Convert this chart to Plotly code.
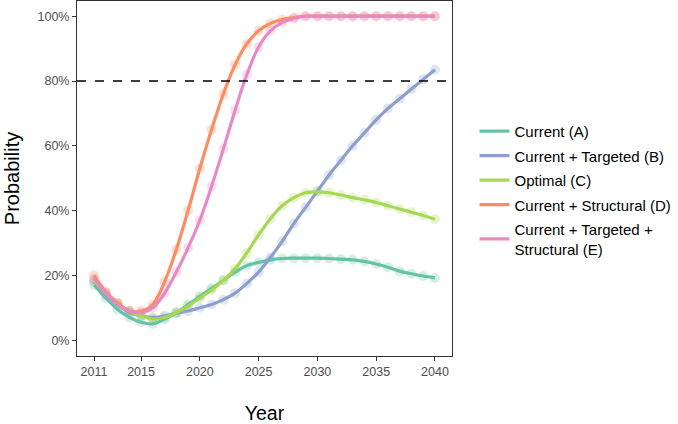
import plotly.graph_objects as go

years = list(range(2011, 2041))

current_a = [17, 13, 9.5, 7, 5.5, 5, 6.5, 8.5, 11, 13.5, 16, 18.5, 21, 23, 24, 24.8, 25.2,
             25.3, 25.3, 25.3, 25.2, 25, 24.8, 24.3, 23.5, 22.5, 21.3, 20.5, 19.8, 19.2]
targeted_b = [18, 14, 11, 8.5, 7.5, 7, 7.5, 8.3, 9, 10, 11, 12.5, 14.5, 17.5, 21, 25.5, 30.5,
              36, 41, 46, 51, 55.5, 60, 64, 68, 71.5, 74.5, 77.5, 80.5, 83.5]
optimal_c = [18.5, 14.5, 11.5, 9, 7.5, 6.5, 7, 8.5, 10.5, 13, 15.5, 18.5, 22, 27, 32.5, 37.5,
             41.5, 44, 45.5, 45.8, 45.5, 44.8, 44, 43.3, 42.5, 41.5, 40.5, 39.5, 38.5, 37.3]
structural_d = [20, 15, 11.5, 9, 9, 11, 18, 28, 40, 53, 65, 76, 85, 91.5, 95.5, 97.8, 99, 99.6,
                100, 100, 100, 100, 100, 100, 100, 100, 100, 100, 100, 100]
targ_struct_e = [19, 14.5, 11, 9, 8.5, 10, 14.5, 21, 28.5, 37, 47.5, 59, 71, 82, 90.5, 95.5, 98,
                 99.3, 100, 100, 100, 100, 100, 100, 100, 100, 100, 100, 100, 100]

names = ["Current (A)", "Current + Targeted (B)", "Optimal (C)", "Current + Structural (D)",
         "Current + Targeted +<br>Structural (E)"]
colors = ["#66c2a5", "#8da0cb", "#a6d854", "#fc8d62", "#e78ac3"]
series = [current_a, targeted_b, optimal_c, structural_d, targ_struct_e]

threshold = 0.8
x_ticks = [2011, 2015, 2020, 2025, 2030, 2035, 2040]
y_ticks = [0, 0.2, 0.4, 0.6, 0.8, 1.0]
y_tick_text = ["0%", "20%", "40%", "60%", "80%", "100%"]

fig = go.Figure()

for name, col, vals in zip(names, colors, series):
    v = [p / 100 for p in vals]
    fig.add_trace(go.Scatter(x=years, y=v, mode="markers", showlegend=False,
                             marker=dict(size=10, color=col, opacity=0.28, line=dict(width=0)),
                             hoverinfo="skip", legendgroup=name))
for name, col, vals in zip(names, colors, series):
    v = [p / 100 for p in vals]
    fig.add_trace(go.Scatter(x=years, y=v, mode="lines", name=name, legendgroup=name,
                             line=dict(color=col, width=3.2, shape="spline", smoothing=1.0)))

fig.add_shape(type="line", xref="paper", x0=0, x1=1, yref="y", y0=threshold, y1=threshold,
              line=dict(color="black", width=1.6, dash="dash"))

axis_col = "#333333"
fig.update_layout(
    width=678, height=424,
    margin=dict(l=77, r=219, t=1, b=68),
    paper_bgcolor="white", plot_bgcolor="white",
    font=dict(family="Liberation Sans, Arial, sans-serif", color="#4d4d4d", size=12.5),
    xaxis=dict(range=[2009.55, 2041.45], tickvals=x_ticks, showgrid=False, zeroline=False,
               showline=True, mirror=True, linecolor=axis_col, linewidth=1,
               ticks="outside", ticklen=4, tickcolor=axis_col, automargin=False,
               tickfont=dict(size=12.5, color="#4d4d4d"),
               title=dict(text="Year", font=dict(size=19.5, color="black"), standoff=28)),
    yaxis=dict(range=[-0.049, 1.047], tickvals=y_ticks, ticktext=y_tick_text, showgrid=False,
               zeroline=False, showline=True, mirror=True, linecolor=axis_col, linewidth=1,
               ticks="outside", ticklen=4, tickcolor=axis_col, automargin=False,
               tickfont=dict(size=12.5, color="#4d4d4d"),
               title=dict(text="Probability", font=dict(size=20, color="black"), standoff=12)),
    legend=dict(x=1.06, y=0.679, xanchor="left", yanchor="top", tracegroupgap=2,
                font=dict(size=15, color="black"), bgcolor="rgba(0,0,0,0)"),
)

fig.write_html("out.html", config={"displayModeBar": False},
               post_script="document.body.style.margin='0px';document.body.style.overflow='hidden';")
